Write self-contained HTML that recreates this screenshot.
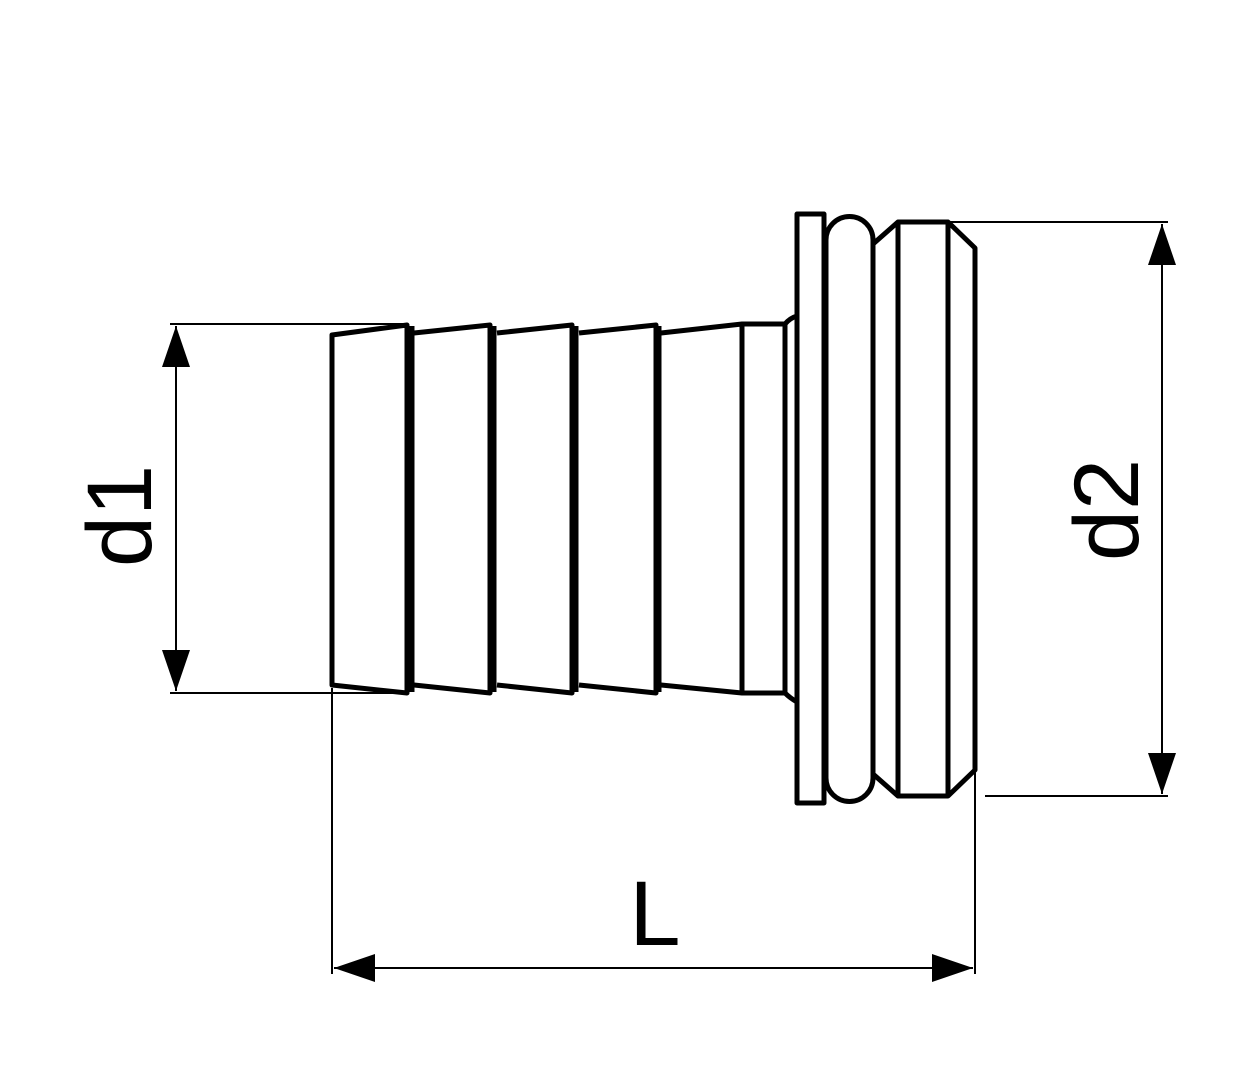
<!DOCTYPE html>
<html><head><meta charset="utf-8"><style>html,body{margin:0;padding:0;background:#fff}svg{display:block}</style></head><body>
<svg width="1260" height="1080" viewBox="0 0 1260 1080" xmlns="http://www.w3.org/2000/svg">
<g fill="none" stroke="#000" stroke-width="5" stroke-linejoin="round">
<path d="M332,685 L332,335 L407,325 L407,693 Z"/>
<line x1="412" y1="326" x2="412" y2="692"/>
<path d="M414,333 L490,325 L490,693 L414,685"/>
<line x1="494" y1="326" x2="494" y2="692"/>
<path d="M497,333 L572,325 L572,693 L497,685"/>
<line x1="576" y1="326" x2="576" y2="692"/>
<path d="M579,333 L656,325 L656,693 L579,685"/>
<line x1="659" y1="326" x2="659" y2="692"/>
<path d="M661,333 L742,324 L742,693 L661,685"/>
<path d="M742,324 L785,324 L785,693 L742,693"/>
<path d="M785,324 Q790,318 797,316"/>
<path d="M785,693 Q790,698 797,702"/>
<rect x="797" y="214" width="27" height="589"/>
<path d="M826,240 A23,23 0 0 1 873,240 L873,778 A23,23 0 0 1 826,778 Z"/>
<path d="M873,244 L898,222 L948,222 L975,248 L975,770 L948,796 L898,796 L873,774"/>
<line x1="898" y1="222" x2="898" y2="796"/>
<line x1="948" y1="222" x2="948" y2="796"/>
</g>
<g stroke="#000" stroke-width="2" fill="none">
<line x1="170" y1="324" x2="407" y2="324"/>
<line x1="170" y1="693" x2="405" y2="693"/>
<line x1="176" y1="326" x2="176" y2="691"/>
<line x1="948" y1="222" x2="1168" y2="222"/>
<line x1="985" y1="796" x2="1168" y2="796"/>
<line x1="1162" y1="224" x2="1162" y2="794"/>
<line x1="332" y1="688" x2="332" y2="974"/>
<line x1="975" y1="772" x2="975" y2="974"/>
<line x1="334" y1="968" x2="973" y2="968"/>
</g>
<g fill="#000">
<polygon points="176,326 162,367 190,367"/>
<polygon points="176,691 162,650 190,650"/>
<polygon points="1162,224 1148,265 1176,265"/>
<polygon points="1162,794 1148,753 1176,753"/>
<polygon points="334,968 375,954 375,982"/>
<polygon points="973,968 932,954 932,982"/>
</g>
<g font-family="Liberation Sans, sans-serif" font-size="92" fill="#000">
<text x="151" y="516" text-anchor="middle" transform="rotate(-90 151 516)">d1</text>
<text x="1138" y="510" text-anchor="middle" transform="rotate(-90 1138 510)">d2</text>
<text x="655" y="945" font-size="92" text-anchor="middle">L</text>
</g>
</svg>
</body></html>
